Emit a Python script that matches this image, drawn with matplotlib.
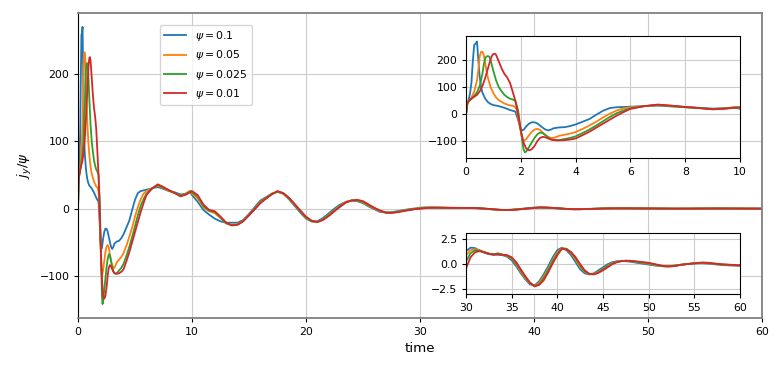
import numpy as np
import matplotlib
matplotlib.use("Agg")
import matplotlib.pyplot as plt

# ---- data ----
labels = [r"$\psi = 0.1$", r"$\psi = 0.05$", r"$\psi = 0.025$", r"$\psi = 0.01$"]
colors = ["#1f77b4", "#ff7f0e", "#2ca02c", "#d62728"]

# early part (0..10), each run has its own sample times
t_b = [0, 0.05, 0.1, 0.15, 0.2, 0.25, 0.3, 0.35, 0.4, 0.45, 0.5, 0.55, 0.6, 0.7, 0.8, 0.9, 1.0, 1.2, 1.4,
       1.6, 1.7, 1.8, 1.9, 2.0, 2.05, 2.1, 2.2, 2.3, 2.4, 2.5, 2.6, 2.7, 2.8, 2.9, 3.0, 3.1, 3.2, 3.4, 3.6,
       3.8, 4.0, 4.25, 4.5, 4.75, 5.0, 5.25, 5.5, 5.75, 6.0, 6.5, 7.0, 7.5, 8.0, 8.5, 9.0, 9.5, 9.8, 10.0]
y_b = [0, 40, 55, 80, 120, 200, 258, 262, 270, 200, 140, 100, 80, 58, 45, 38, 34, 30, 24,
       16, 13, 10, -20, -55, -60, -58, -45, -35, -30, -30, -34, -42, -50, -57, -60, -57, -52, -49, -48,
       -44, -38, -28, -18, -2, 13, 23, 26, 27, 28, 30, 32, 29, 26, 24, 21, 22, 25, 20]

t_o = [0, 0.05, 0.1, 0.2, 0.3, 0.4, 0.45, 0.5, 0.55, 0.6, 0.65, 0.7, 0.75, 0.8, 0.9, 1.0, 1.1, 1.2, 1.4,
       1.6, 1.75, 1.85, 1.95, 2.05, 2.1, 2.2, 2.3, 2.4, 2.5, 2.6, 2.7, 2.8, 2.9, 3.0, 3.1, 3.2, 3.4, 3.6,
       3.8, 4.0, 4.25, 4.5, 4.75, 5.0, 5.25, 5.5, 5.75, 6.0, 6.5, 7.0, 7.5, 8.0, 8.5, 9.0, 9.5, 9.8, 10.0]
y_o = [0, 38, 48, 62, 85, 125, 165, 215, 232, 232, 220, 190, 160, 135, 100, 78, 62, 52, 40,
       33, 30, 18, -40, -90, -100, -92, -78, -65, -57, -54, -58, -68, -78, -84, -88, -88, -80, -76,
       -72, -66, -55, -42, -28, -12, 2, 14, 22, 26, 30, 34, 30, 26, 23, 19, 23, 26, 22]

t_g = [0, 0.05, 0.1, 0.2, 0.3, 0.4, 0.5, 0.6, 0.65, 0.7, 0.75, 0.8, 0.85, 0.9, 0.95, 1.0, 1.1, 1.2, 1.3,
       1.4, 1.5, 1.6, 1.7, 1.8, 1.9, 2.0, 2.1, 2.15, 2.2, 2.3, 2.4, 2.5, 2.6, 2.7, 2.8, 2.9, 3.0, 3.1,
       3.2, 3.3, 3.4, 3.6, 3.8, 4.0, 4.25, 4.5, 4.75, 5.0, 5.25, 5.5, 5.75, 6.0, 6.5, 7.0, 7.5, 8.0,
       8.5, 9.0, 9.5, 9.9, 10.0]
y_g = [0, 40, 48, 58, 68, 82, 105, 150, 185, 208, 215, 216, 214, 200, 180, 160, 125, 100, 85,
       72, 64, 58, 55, 50, 15, -60, -130, -142, -138, -122, -105, -88, -75, -68, -70, -78, -87, -93,
       -96, -97, -96, -92, -88, -82, -70, -57, -42, -26, -10, 4, 14, 22, 30, 35, 31, 27,
       23, 19, 22, 26, 24]

t_r = [0, 0.05, 0.1, 0.2, 0.3, 0.4, 0.5, 0.6, 0.7, 0.8, 0.9, 0.95, 1.0, 1.05, 1.1, 1.2, 1.3, 1.4, 1.5,
       1.6, 1.7, 1.8, 1.9, 2.0, 2.1, 2.2, 2.3, 2.4, 2.5, 2.6, 2.7, 2.8, 2.9, 3.0, 3.1, 3.2, 3.4, 3.6,
       3.8, 4.0, 4.25, 4.5, 4.75, 5.0, 5.25, 5.5, 5.75, 6.0, 6.5, 7.0, 7.5, 8.0, 8.5, 9.0, 9.5, 10.0]
y_r = [0, 42, 50, 58, 65, 72, 85, 105, 135, 170, 205, 218, 224, 225, 220, 195, 170, 150, 137,
       118, 85, 50, 0, -60, -105, -128, -134, -130, -118, -100, -88, -84, -86, -90, -94, -96, -97, -96,
       -94, -90, -78, -65, -50, -35, -20, -5, 8, 20, 30, 36, 32, 27, 23, 18, 21, 26]

# middle part, common times 10.5..29.5 step 0.5
t_mid = np.arange(10.5, 29.75, 0.5)
mid_b = [10, -2, -9, -15, -19, -21, -21, -21, -17, -8, 2, 12, 17, 22, 25, 22, 14, 4, -6, -15,
         -19, -19, -14, -7, 0, 6, 10, 12, 11, 8, 3, -1, -5, -6, -5.5, -4, -2.5, -1, 0]
mid_o = [15, 2, -4, -7, -14, -22, -24, -23, -18, -9, 0, 10, 16, 22, 25, 22, 15, 5, -4, -14,
         -19, -20, -16, -9, -2, 4, 10, 12, 12, 9, 4, 0, -4, -6, -6, -5, -3, -2, -0.5]
mid_g = [18, 4, -3, -5, -13, -22, -25, -24, -18, -10, -1, 9, 15, 22, 25, 23, 16, 6, -3, -13,
         -19, -20, -16, -10, -3, 3, 9, 12, 12, 10, 5, 1, -3, -6, -6, -5, -3.5, -2, -1]
mid_r = [20, 6, -2, -4, -12, -21, -25, -24, -19, -10, -1, 8, 15, 21, 26, 23, 16, 7, -3, -12,
         -18, -20, -17, -11, -4, 3, 9, 12, 13, 11, 6, 1, -3, -6, -6.5, -5.5, -4, -2.5, -1]

# late part, common times 30..60 step 0.5
t_late = np.arange(30, 60.25, 0.5)
late_b = [1.3, 1.65, 1.6, 1.35, 1.15, 1.0, 0.95, 0.95, 0.9, 0.75,
          0.4, -0.2, -0.9, -1.5, -2.0, -2.1, -1.7, -1.0, -0.2, 0.7,
          1.4, 1.65, 1.4, 0.9, 0.2, -0.5, -0.9, -1.0, -0.9, -0.6,
          -0.3, 0.0, 0.2, 0.3, 0.33, 0.3, 0.25, 0.18, 0.1, 0.03,
          -0.03, -0.1, -0.15, -0.2, -0.2, -0.17, -0.1, -0.05, 0.0, 0.05,
          0.08, 0.1, 0.1, 0.07, 0.02, -0.03, -0.07, -0.1, -0.12, -0.14, -0.15]
late_o = [0.9, 1.4, 1.5, 1.4, 1.2, 1.05, 1.0, 1.1, 0.95, 0.8,
          0.55, 0.0, -0.75, -1.4, -1.9, -2.15, -1.85, -1.2, -0.45, 0.45,
          1.2, 1.6, 1.5, 1.1, 0.45, -0.25, -0.75, -1.0, -0.95, -0.75,
          -0.45, -0.15, 0.1, 0.25, 0.33, 0.35, 0.3, 0.25, 0.18, 0.1,
          0.05, -0.05, -0.12, -0.18, -0.22, -0.2, -0.12, -0.05, 0.0, 0.05,
          0.1, 0.13, 0.13, 0.1, 0.05, 0.0, -0.03, -0.06, -0.08, -0.1, -0.12]
late_g = [0.3, 1.1, 1.4, 1.35, 1.2, 1.05, 1.0, 1.05, 0.95, 0.85,
          0.6, 0.1, -0.6, -1.3, -1.85, -2.15, -2.0, -1.4, -0.6, 0.3,
          1.05, 1.55, 1.55, 1.2, 0.6, -0.1, -0.7, -0.95, -1.0, -0.8,
          -0.5, -0.2, 0.05, 0.22, 0.32, 0.35, 0.32, 0.27, 0.2, 0.15,
          0.1, 0.0, -0.1, -0.17, -0.2, -0.2, -0.13, -0.05, 0.0, 0.05,
          0.1, 0.14, 0.15, 0.12, 0.07, 0.02, -0.02, -0.05, -0.07, -0.09, -0.11]
late_r = [-0.4, 0.7, 1.2, 1.3, 1.2, 1.05, 0.95, 1.0, 0.95, 0.9,
          0.7, 0.2, -0.5, -1.2, -1.8, -2.2, -2.05, -1.6, -0.8, 0.1,
          0.9, 1.55, 1.45, 1.2, 0.7, 0.0, -0.6, -0.95, -1.0, -0.85,
          -0.6, -0.3, 0.0, 0.2, 0.3, 0.35, 0.35, 0.3, 0.25, 0.2,
          0.15, 0.05, -0.05, -0.15, -0.2, -0.2, -0.15, -0.05, 0.0, 0.05,
          0.1, 0.15, 0.17, 0.15, 0.1, 0.05, 0.0, -0.02, -0.05, -0.08, -0.1]

early = [(t_b, y_b), (t_o, y_o), (t_g, y_g), (t_r, y_r)]
mids = [mid_b, mid_o, mid_g, mid_r]
lates = [late_b, late_o, late_g, late_r]

series = []
for (te, ye), ym, yl in zip(early, mids, lates):
    t = np.concatenate([te, t_mid, t_late])
    y = np.concatenate([ye, ym, yl])
    series.append((t, y))

fs = 7.8
fig = plt.figure(figsize=(7.84, 3.71), dpi=100)
ax = fig.add_axes([0.0995, 0.1429, 0.8724, 0.8221])
for (t, y), lab, c in zip(series, labels, colors):
    ax.plot(t, y, color=c, lw=1.3, label=lab)
ax.set_xlim(0, 60)
ax.grid(True, color="#cccccc", lw=0.8)
ax.set_xlabel("time", fontsize=9.6)
ax.set_ylabel(r"$j_y/\psi$", fontsize=9.6)
ax.tick_params(labelsize=fs, length=2.7)
for side in ["top", "right", "bottom"]:
    ax.spines[side].set_color("#808080")
    ax.spines[side].set_linewidth(1.3)
ax.legend(loc="upper left", bbox_to_anchor=(0.12, 0.962), borderaxespad=0, fontsize=fs)

# inset: early transient
ax1 = fig.add_axes([0.5944, 0.5741, 0.3495, 0.3288])
for (t, y), c in zip(series, colors):
    ax1.plot(t, y, color=c, lw=1.3)
ax1.set_xlim(0, 10)
ax1.set_yticks([-100, 0, 100, 200])
ax1.grid(True, color="#cccccc", lw=0.8)
ax1.tick_params(labelsize=fs, length=2.7)

# inset: late tail
ax2 = fig.add_axes([0.5944, 0.2075, 0.3495, 0.1644])
for (t, y), c in zip(series, colors):
    ax2.plot(t, y, color=c, lw=1.3)
ax2.set_xlim(30, 60)
ax2.set_ylim(-2.95, 3.1)
ax2.set_yticks([-2.5, 0.0, 2.5])
ax2.grid(True, color="#cccccc", lw=0.8)
ax2.tick_params(labelsize=fs, length=2.7)

fig.savefig("out.png", dpi=100)
